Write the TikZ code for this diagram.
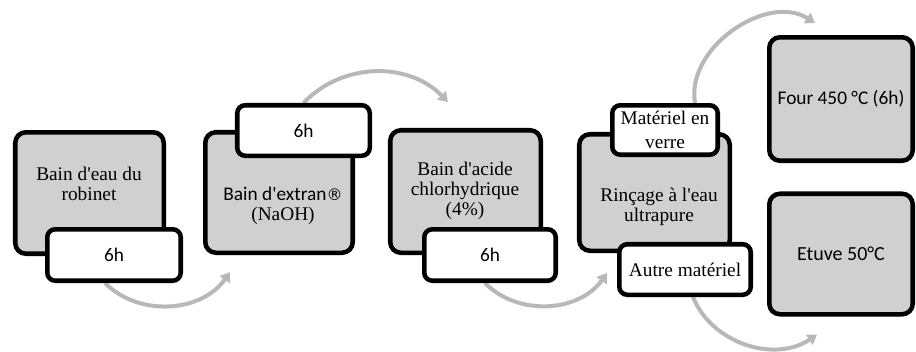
\documentclass[tikz,border=0pt]{standalone}
\usepackage{fontspec}
\setmainfont{Liberation Serif}
\newfontfamily\calibri{Carlito}
\newfontfamily\symb{DejaVu Sans}
\usetikzlibrary{arrows.meta,backgrounds}
\definecolor{grisfond}{RGB}{208,208,208}
\definecolor{grisfleche}{RGB}{184,184,184}
\newcommand\apos{\textquotesingle}
\begin{document}
\begin{tikzpicture}[x=0.75pt,y=-0.75pt,
  grisbox/.style={draw,line width=3.4pt,rounded corners=8pt,fill=grisfond,align=center,font=\calibri\fontsize{14.5}{16}\selectfont},
  blancbox/.style={draw,line width=3.4pt,rounded corners=6pt,fill=white,align=center,font=\calibri\fontsize{14.5}{16}\selectfont},
  serif/.style={align=center,font=\rmfamily\fontsize{14.5}{15}\selectfont},
  fleche/.style={draw=grisfleche,line width=3pt,-{Triangle[length=7pt,width=9pt]}}]
\useasboundingbox (0,0) rectangle (916,351);
\node[grisbox,minimum width=111.4pt,minimum height=91.1pt](b1) at (89.5,193) {};
\node[grisbox,minimum width=110.6pt,minimum height=90.4pt](b2) at (279,192.5) {};
\node[grisbox,minimum width=112.9pt,minimum height=91.9pt](b3) at (465.5,191.5) {};
\node[grisbox,minimum width=112.9pt,minimum height=87.4pt](b4) at (654.5,192.5) {};
\node[grisbox,minimum width=107.6pt,minimum height=92.6pt](b5) at (841,99) {Four 450 °C (6h)};
\node[grisbox,font=\calibri\fontsize{15}{17}\selectfont,minimum width=107.6pt,minimum height=90.4pt](b6) at (841,254) {Etuve 50°C};
\node[serif](t1) at (89,184) {Bain d\apos eau du\\robinet};
\node[serif](t2) at (283,206) {{\calibri\fontsize{14.5}{15}\selectfont Bain d\apos extran{\symb\fontsize{12}{15}\selectfont ®}}\\(NaOH)};
\node[serif](t3) at (465,191) {Bain d\apos acide\\chlorhydrique\\(4\%)};
\node[serif](t4) at (659,207) {Rinçage à l\apos eau\\ultrapure};
\node[blancbox,minimum width=100.1pt,minimum height=38.6pt](w1) at (114,255) {6h};
\node[blancbox,minimum width=99.4pt,minimum height=37.9pt](w2) at (303.5,130.5) {6h};
\node[blancbox,minimum width=98.6pt,minimum height=38.6pt](w3) at (490,255) {6h};
\node[blancbox,serif,font=\rmfamily\fontsize{14.5}{18}\selectfont,minimum width=79.1pt,minimum height=37.1pt](w4a) at (665,130) {Matériel en\\verre};
\node[blancbox,serif,minimum width=98.6pt,minimum height=37.9pt](w4b) at (685,269.5) {Autre matériel};
\begin{scope}[on background layer]
\draw[fleche] ([shift={(-9,0)}]w1.south) to[bend right=50] ([shift={(27,17)}]b2.south west);
\draw[fleche] (w2.north) to[bend left=46] ([shift={(60,-26)}]b3.north west);
\draw[fleche] ([shift={(-5,0)}]w3.south) to[bend right=50] ([shift={(30,20)}]b4.south west);
\draw[fleche] ([shift={(30,0)}]w4a.north) to[bend left=66] ([shift={(48,-12)}]b5.north west);
\draw[fleche] ([shift={(8,0)}]w4b.south) to[bend right=51] ([shift={(50,18)}]b6.south west);
\end{scope}
\end{tikzpicture}
\end{document}
